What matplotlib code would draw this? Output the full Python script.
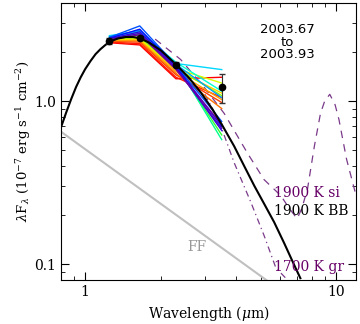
import numpy as np
import matplotlib
matplotlib.use('Agg')
import matplotlib.pyplot as plt
from matplotlib.ticker import LogLocator, NullFormatter, FixedLocator, FixedFormatter

#%% data
wl = [1.25, 1.65, 2.3, 3.5]

# individual epochs (rainbow lines)
epoch_colors = ['#ff0000', '#ff1a00', '#ff3c00', '#ff7000', '#ffa000', '#ffd000',
                '#d8ff00', '#90ff00', '#30ff30', '#00ff90', '#00ffd0', '#00d8ff',
                '#00a0ff', '#0050ff', '#0010ff', '#3000e0', '#5000c0', '#7000a0']
epoch_flux = [
    [2.28, 2.21, 1.37, 1.40],
    [2.30, 2.25, 1.40, 1.05],
    [2.32, 2.30, 1.45, 0.98],
    [2.34, 2.34, 1.48, 0.90],
    [2.36, 2.37, 1.52, 1.02],
    [2.38, 2.40, 1.55, 1.12],
    [2.40, 2.43, 1.58, 1.29],
    [2.42, 2.47, 1.60, 1.08],
    [2.44, 2.55, 1.65, 0.62],
    [2.46, 2.60, 1.70, 0.58],
    [2.50, 2.66, 1.73, 1.15],
    [2.52, 2.68, 1.70, 1.56],
    [2.48, 2.72, 1.68, 1.05],
    [2.46, 2.89, 1.66, 0.75],
    [2.43, 2.76, 1.63, 0.70],
    [2.41, 2.66, 1.61, 0.66],
    [2.39, 2.60, 1.58, 0.68],
    [2.37, 2.55, 1.56, 0.72],
]

# mean points
mean_flux = [2.34, 2.44, 1.67, 1.22]
mean_err = [0.1, 0.06, 0.06, 0.25]

# 1900 K blackbody model
bb_wl = [0.80, 0.84, 0.88, 0.92, 0.96, 1.00, 1.05, 1.10, 1.15, 1.20, 1.25,
         1.35, 1.45, 1.55, 1.65, 1.80, 2.0, 2.3, 2.6, 2.9, 3.2, 3.5, 3.92,
         4.3, 4.72, 5.2, 5.66, 6.2, 6.8, 7.2]
bb_flux = [0.686, 0.85, 1.03, 1.22, 1.40, 1.57, 1.76, 1.94, 2.08, 2.20, 2.31,
           2.42, 2.47, 2.47, 2.43, 2.28, 2.05, 1.68, 1.38, 1.12, 0.90, 0.72, 0.53,
           0.40, 0.302, 0.23, 0.181, 0.135, 0.099, 0.082]

# 1900 K silicate model
si_wl = [1.9, 2.4, 3.0, 3.58, 4.43, 5.16, 6.02, 6.5, 6.99, 7.3, 7.69, 8.19,
         8.66, 9.0, 9.43, 9.9, 10.26, 11.0, 11.9]
si_flux = [2.4, 1.8, 1.2, 0.84, 0.48, 0.33, 0.263, 0.22, 0.19, 0.22, 0.29, 0.53,
           0.84, 1.0, 1.10, 0.95, 0.77, 0.44, 0.277]

# 1700 K graphite model
gr_wl = [3.0, 3.42, 3.92, 4.57, 5.16, 5.75, 6.3]
gr_flux = [1.1, 0.75, 0.42, 0.24, 0.15, 0.095, 0.082]

# free-free
ff_wl = [0.8, 5.26]
ff_flux = [0.65, 0.08]

#%% plot
plt.rcParams['font.family'] = 'DejaVu Serif'
plt.rcParams['mathtext.fontset'] = 'dejavuserif'

purple = '#660066'
fig = plt.figure(figsize=[3.6, 3.24], dpi=100)
ax = fig.add_axes([0.169, 0.136, 0.820, 0.855])
ax.set_xscale('log')
ax.set_yscale('log')
ax.set_xlim(0.8, 12)
ax.set_ylim(0.08, 4)

ax.plot(ff_wl, ff_flux, c='#c0c0c0', lw=1.5)
ax.plot(si_wl, si_flux, c='#7a3a8a', lw=0.9, ls=(0, (6, 5)))
ax.plot(gr_wl, gr_flux, c='#7a3a8a', lw=0.9, ls=(0, (5, 3, 1, 3)))
for c, f in zip(epoch_colors, epoch_flux):
    ax.plot(wl, f, c=c, lw=1.0)
ax.plot(bb_wl, bb_flux, c='k', lw=1.5)
ax.errorbar(wl, mean_flux, yerr=mean_err, fmt='o', c='k', ms=4.5,
            elinewidth=0.8, capsize=2, ecolor='#333333')

ax.text(6.4, 2.3, '2003.67\nto\n2003.93', family='DejaVu Sans', fontsize=9.5,
        ha='center', va='center', linespacing=0.95)
ax.text(5.66, 0.273, '1900 K si', color=purple, fontsize=10, va='center')
ax.text(5.66, 0.212, '1900 K BB', color='k', fontsize=10, va='center')
ax.text(5.66, 0.096, '1700 K gr', color=purple, fontsize=10, va='center')
ax.text(2.55, 0.127, 'FF', color='#999999', fontsize=10, va='center')

ax.set_xlabel(r'Wavelength ($\mu$m)', fontsize=10, labelpad=4)
ax.set_ylabel(r'$\lambda$F$_\lambda$ (10$^{-7}$ erg s$^{-1}$ cm$^{-2}$)',
              fontsize=9.5, labelpad=1)

ax.xaxis.set_major_locator(FixedLocator([1, 10]))
ax.xaxis.set_major_formatter(FixedFormatter(['1', '10']))
ax.xaxis.set_minor_locator(LogLocator(subs=np.arange(2, 10)))
ax.xaxis.set_minor_formatter(NullFormatter())
ax.yaxis.set_major_locator(FixedLocator([0.1, 1.0]))
ax.yaxis.set_major_formatter(FixedFormatter(['0.1', '1.0']))
ax.yaxis.set_minor_locator(LogLocator(subs=np.arange(2, 10)))
ax.yaxis.set_minor_formatter(NullFormatter())
ax.tick_params(which='both', direction='in', top=True, right=True, labelsize=10)
ax.tick_params(which='major', length=6, width=0.8)
ax.tick_params(which='minor', length=3, width=0.6)
for s in ax.spines.values():
    s.set_linewidth(0.8)

fig.savefig('out.png', dpi=100)
